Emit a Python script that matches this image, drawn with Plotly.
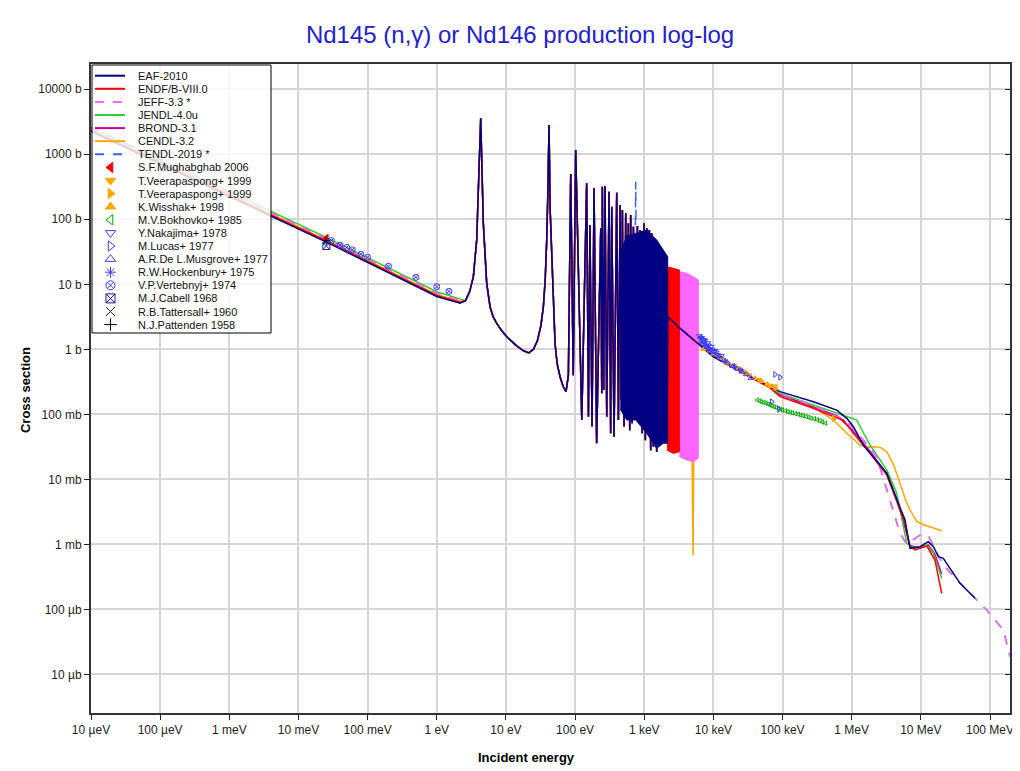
import plotly.graph_objects as go

# ---------------- axis ticks ----------------
X_TICK_VALS = [1e-5, 1e-4, 1e-3, 1e-2, 1e-1, 1, 10, 100, 1e3, 1e4, 1e5, 1e6, 1e7, 1e8]
X_TICK_TEXT = ["10 µeV", "100 µeV", "1 meV", "10 meV", "100 meV", "1 eV", "10 eV", "100 eV",
               "1 keV", "10 keV", "100 keV", "1 MeV", "10 MeV", "100 MeV"]
Y_TICK_VALS = [1e-5, 1e-4, 1e-3, 1e-2, 1e-1, 1, 10, 100, 1e3, 1e4]
Y_TICK_TEXT = ["10 µb", "100 µb", "1 mb", "10 mb", "100 mb", "1 b", "10 b", "100 b", "1000 b", "10000 b"]

# ---------------- evaluated data (energy in eV, cross section in b) ----------------
LOW_E = [1e-5, 0.0253, 1.0, 2.17]
EAF_LOW = [2240, 44.6, 6.5, 5.1]
BROND_LOW = [2310, 46.0, 6.7, 5.25]
ENDF_LOW = [2330, 46.4, 6.75, 5.3]
CENDL_LOW = [2420, 48.2, 7.0, 5.5]
JEFF_LOW = [2510, 50.0, 7.3, 5.7]
TENDL_LOW = [2510, 50.0, 7.3, 5.7]
JENDL_LOW = [2640, 52.6, 7.7, 6.0]

# shared resolved-resonance curve
RES_E = [2.6, 3.0, 3.38, 3.78, 3.99, 4.32, 4.71, 5.0, 5.27, 5.89, 6.5, 7.36, 8.5, 10.3, 14.0, 18.0,
         21.5, 25.0, 28.5, 32.0, 34.8, 37.0, 38.9, 40.5, 42.0, 43.5, 45.9, 48.0, 51.3, 55.0, 60.6,
         67.0, 74, 80, 86.5, 94, 102, 125, 147, 156, 164, 176, 188, 205, 235, 243, 248, 259,
         271, 287, 310, 327, 339, 366, 400, 423, 447, 467, 483, 510, 540, 564, 589, 617, 637, 667,
         697, 745, 796, 832, 869, 929, 993, 1038, 1086, 1135, 1186, 1240, 1282, 1355, 1432, 1514,
         1600, 1690, 1790, 1932, 2066, 2138]
RES_S = [5.6, 7.8, 13.1, 48, 282, 3580, 86.8, 25, 10.4, 4.52, 3.2, 2.51, 2.0, 1.56, 1.15, 0.95,
         0.88, 1.0, 1.35, 2.3, 4.52, 12, 48, 300, 2820, 150, 26.6, 5.0, 1.24, 0.6, 0.379,
         0.27, 0.223, 0.4, 498, 0.4, 1165, 0.082, 358, 0.092, 81.7, 0.065, 300, 0.0358, 72.7,
         0.21, 317, 0.237, 325, 0.092, 266, 0.051, 156, 0.045, 257, 0.082, 166, 0.166, 139, 0.065,
         124, 0.082, 86.8, 0.057, 116, 0.073, 76.9, 0.166, 78.9, 0.082, 68.4, 0.051, 86.8, 0.040,
         72.7, 0.051, 68.4, 0.028, 60.9, 0.0317, 48, 0.0266, 37.9, 0.051, 33.7, 0.0358, 28.2, 0.040]

# dense (unresolvable at this scale) resonance bands: upper / lower envelopes
EAF_BAND_E = [450, 558, 753, 1086, 1514, 1892, 2183]
EAF_BAND_TOP = [30, 55, 61, 68.4, 48, 33.7, 26.6]
EAF_BAND_BOT = [0.12, 0.082, 0.082, 0.051, 0.03, 0.036, 0.036]
ENDF_BAND_E = [2138, 2640, 3220]
ENDF_BAND_TOP = [18.7, 17.6, 16.6]
ENDF_BAND_BOT = [0.028, 0.025, 0.0266]
JEFF_BAND_E = [3220, 4110, 5140, 6060]
JEFF_BAND_TOP = [15.6, 14.8, 13.1, 11.6]
JEFF_BAND_BOT = [0.0223, 0.0198, 0.0187, 0.021]

TENDL_PEAK_E = [745, 753, 761]
TENDL_PEAK_S = [80, 379, 80]

CENDL_MID_E = [2200, 3220, 4000, 4150, 4300, 4450, 4600, 4900, 5080, 5200, 5600]
CENDL_MID_S = [0.03, 0.03, 0.03, 0.11, 0.02, 0.12, 0.02, 0.03, 0.00068, 0.03, 1.3]

# smooth (unresolved / fast) region
EAF_HI_E = [2183, 3300, 1.0e4, 3.03e4, 6.59e4, 9.2e4, 2.79e5, 6.08e5, 8.48e5, 1.06e6, 1.47e6, 2.06e6,
            3.22e6, 4.73e6, 5.9e6, 6.98e6, 9.73e6, 1.28e7, 1.52e7, 1.79e7, 2.11e7, 3.69e7, 6.08e7]
EAF_HI_S = [3.17, 2.10, 0.77, 0.403, 0.266, 0.223, 0.156, 0.116, 0.0867, 0.0645, 0.0337, 0.0223,
            0.0124, 0.00427, 0.00237, 0.000868, 0.000919, 0.0011, 0.000919, 0.000645, 0.000609,
            0.000251, 0.000148]
ENDF_HI_E = [3220, 1.0e4, 3.03e4, 6.59e4, 9.2e4, 2.79e5, 5.43e5, 7.57e5, 1.06e6, 1.84e6, 3.22e6,
             4.73e6, 5.9e6, 6.82e6, 8.24e6, 1.22e7, 1.6e7, 2.0e7]
ENDF_HI_S = [2.15, 0.77, 0.40, 0.255, 0.187, 0.124, 0.092, 0.0817, 0.051, 0.0251, 0.0116, 0.00402,
             0.0021, 0.000976, 0.000817, 0.000942, 0.000573, 0.000176]
JENDL_HI_E = [3220, 1.0e4, 3.03e4, 6.59e4, 9.2e4, 2.79e5, 6.08e5, 1.18e6, 1.84e6, 3.22e6, 4.48e6,
              6.25e6, 8.24e6, 1.22e7, 1.52e7, 2.0e7]
JENDL_HI_S = [2.2, 0.79, 0.41, 0.26, 0.21, 0.139, 0.104, 0.0817, 0.0337, 0.0139, 0.0061, 0.00104,
              0.000868, 0.000976, 0.000727, 0.0003]
BROND_HI_E = [3220, 1.0e4, 3.03e4, 6.59e4, 9.2e4, 2.79e5, 6.08e5, 1.06e6, 1.84e6, 3.22e6, 4.73e6,
              6.98e6, 9.73e6, 1.28e7, 1.6e7, 2.0e7]
BROND_HI_S = [2.15, 0.77, 0.40, 0.26, 0.20, 0.13, 0.095, 0.055, 0.027, 0.012, 0.0042, 0.00095,
              0.00088, 0.00098, 0.0007, 0.00035]
CENDL_HI_E = [5600, 1.0e4, 3.03e4, 6.59e4, 9.2e4, 2.79e5, 5.43e5, 8.48e5, 1.32e6, 1.7e6, 2.06e6,
              2.6e6, 3.22e6, 4.0e6, 5.0e6, 6.0e6, 6.98e6, 8.73e6, 1.1e7, 1.36e7, 1.7e7, 2.0e7]
CENDL_HI_S = [1.3, 0.78, 0.40, 0.255, 0.20, 0.13, 0.0817, 0.051, 0.0337, 0.031, 0.0317, 0.031,
              0.0266, 0.017, 0.00867, 0.0048, 0.00337, 0.00223, 0.002, 0.00187, 0.0017, 0.00162]
JEFF_HI_E = [6060, 1.0e4, 3.03e4, 6.59e4, 9.2e4, 2.79e5, 8.02e5, 1.47e6, 2.30e6, 2.87e6, 3.79e6,
             5.0e6, 6.25e6, 9.73e6, 1.28e7, 1.6e7, 2.11e7, 3.69e7, 6.43e7, 8.97e7, 1.18e8, 1.56e8,
             1.95e8]
JEFF_HI_S = [1.15, 0.78, 0.41, 0.26, 0.205, 0.135, 0.0817, 0.0403, 0.0223, 0.0104, 0.00379, 0.00148,
             0.00101, 0.00139, 0.00136, 0.000868, 0.00048, 0.000251, 0.000139, 9.75e-5, 6.84e-5,
             4.8e-5, 1.87e-5]
TENDL_HI_E = JEFF_HI_E
TENDL_HI_S = JEFF_HI_S

# ---------------- experimental data ----------------
MUGHABGHAB_E, MUGHABGHAB_S = [0.0253], [51]
VEERA1_E = [1.1e4, 1.3e4, 1.6e4, 1.9e4, 2.2e4, 2.7e4, 3.3e4, 4.5e4, 6.2e4, 7.8e4]
VEERA1_S = [0.82, 0.74, 0.60, 0.56, 0.52, 0.46, 0.40, 0.34, 0.28, 0.27]
VEERA2_E, VEERA2_S = [5.5e5], [0.085]
WISSHAK_E = [6.5e3, 7.2e3, 8e3, 9.0e3, 1.0e4, 1.25e4, 1.5e4, 2.0e4, 2.5e4, 3.0e4, 4.0e4, 5.0e4,
             6.0e4, 7.0e4, 8.0e4]
WISSHAK_S = [1.35, 1.0, 1.1, 0.95, 0.85, 0.75, 0.66, 0.56, 0.48, 0.43, 0.36, 0.32, 0.29, 0.27, 0.25]
BOKHOVKO_E = [4.3e4, 4.7e4, 5.0e4, 5.4e4, 5.8e4, 6.2e4, 6.6e4, 7.1e4, 7.6e4, 8.2e4, 8.8e4, 9.4e4,
              1.0e5, 1.1e5, 1.2e5, 1.3e5, 1.4e5, 1.55e5, 1.7e5, 1.85e5, 2.0e5, 2.2e5, 2.4e5, 2.6e5,
              2.9e5, 3.2e5, 3.5e5, 3.8e5, 4.2e5]
BOKHOVKO_S = [0.166, 0.16, 0.155, 0.152, 0.148, 0.143, 0.139, 0.134, 0.13, 0.126, 0.122, 0.119,
              0.116, 0.113, 0.11, 0.107, 0.105, 0.102, 0.10, 0.097, 0.095, 0.092, 0.09, 0.087,
              0.085, 0.082, 0.079, 0.076, 0.073]
NAKAJIMA_E = [6.3e3, 6.5e3, 6.7e3, 6.8e3, 7.0e3, 7.2e3, 7.3e3, 7.5e3, 7.7e3, 7.8e3, 8.0e3, 8.3e3,
              8.5e3, 8.8e3, 9.0e3, 9.3e3, 9.5e3, 1.0e4, 1.05e4, 1.1e4, 1.15e4, 1.2e4, 1.3e4]
NAKAJIMA_S = [1.6, 1.45, 1.25, 1.5, 1.2, 1.35, 1.4, 1.35, 1.1, 1.15, 1.05, 1.25, 1.15, 0.98, 0.95,
              1.1, 1.0, 0.85, 0.95, 0.9, 0.82, 0.75, 0.8]
LUCAS_E = [7.0e4, 7.8e4, 8.9e4, 9.2e4]
LUCAS_S = [0.156, 0.41, 0.119, 0.37]
MUSGROVE_E = [6.6e3, 7.3e3, 8.2e3, 9.1e3, 1.05e4, 1.2e4, 1.4e4, 1.6e4, 1.9e4, 2.2e4, 2.6e4, 3.0e4, 3.5e4]
MUSGROVE_S = [1.55, 1.3, 1.1, 1.0, 0.9, 0.78, 0.68, 0.62, 0.55, 0.5, 0.45, 0.41, 0.36]
HOCKENBURY_E = [1.5e4, 2.0e4, 2.5e4]
HOCKENBURY_S = [0.66, 0.55, 0.48]
VERTEBNYJ_E = [0.03, 0.04, 0.05, 0.06, 0.08, 0.1, 0.2, 0.5, 1.0, 1.5]
VERTEBNYJ_S = [47, 40, 37, 34, 29, 26, 19, 12.8, 9.2, 7.8]
CABELL_E, CABELL_S = [0.0253], [38.8]
TATTERSALL_E, TATTERSALL_S = [0.0253], [45]
PATTENDEN_E, PATTENDEN_S = [0.0253], [47]

# ---------------- styles ----------------
LIBS = [  # name, color, dash
    ("EAF-2010", "#000080", "solid"),
    ("ENDF/B-VIII.0", "#ff0000", "solid"),
    ("JEFF-3.3 *", "#ff66ff", "dash"),
    ("JENDL-4.0u", "#33cc33", "solid"),
    ("BROND-3.1", "#cc0099", "solid"),
    ("CENDL-3.2", "#ffa500", "solid"),
    ("TENDL-2019 *", "#3366ff", "dash"),
]
COL = {n: c for n, c, d in LIBS}
DASH = {n: d for n, c, d in LIBS}
EXPS = [  # name, E, S, symbol, color, size in plot
    ("S.F.Mughabghab 2006", MUGHABGHAB_E, MUGHABGHAB_S, "triangle-left", "#ff0000", 7),
    ("T.Veerapaspong+ 1999", VEERA1_E, VEERA1_S, "triangle-down", "#ffa500", 5),
    ("T.Veerapaspong+ 1999", VEERA2_E, VEERA2_S, "triangle-right", "#ffa500", 5),
    ("K.Wisshak+ 1998", WISSHAK_E, WISSHAK_S, "triangle-up", "#ffa500", 5),
    ("M.V.Bokhovko+ 1985", BOKHOVKO_E, BOKHOVKO_S, "triangle-left-open", "#00b000", 4),
    ("Y.Nakajima+ 1978", NAKAJIMA_E, NAKAJIMA_S, "triangle-down-open", "#3b3bff", 5),
    ("M.Lucas+ 1977", LUCAS_E, LUCAS_S, "triangle-right-open", "#3b3bff", 5),
    ("A.R.De L.Musgrove+ 1977", MUSGROVE_E, MUSGROVE_S, "triangle-up-open", "#3b3bff", 5),
    ("R.W.Hockenbury+ 1975", HOCKENBURY_E, HOCKENBURY_S, "asterisk-open", "#3b3bff", 5),
    ("V.P.Vertebnyj+ 1974", VERTEBNYJ_E, VERTEBNYJ_S, "circle-x-open", "#3b3bff", 6),
    ("M.J.Cabell 1968", CABELL_E, CABELL_S, "square-x-open", "#1a1aa0", 7),
    ("R.B.Tattersall+ 1960", TATTERSALL_E, TATTERSALL_S, "x-thin-open", "#1a1aa0", 6),
    ("N.J.Pattenden 1958", PATTENDEN_E, PATTENDEN_S, "cross-thin-open", "#000000", 6),
]

fig = go.Figure()


def line(x, y, name, width=1.5):
    fig.add_trace(go.Scatter(x=x, y=y, mode="lines", showlegend=False, hoverinfo="skip",
                             line=dict(color=COL[name], width=width, dash=DASH[name])))


def band(e, top, bot, name):
    c = COL[name]
    fig.add_trace(go.Scatter(x=e + e[::-1], y=top + bot[::-1], mode="lines", fill="toself",
                             fillcolor=c, line=dict(color=c, width=1), showlegend=False,
                             hoverinfo="skip"))


# draw order (last on top): TENDL, CENDL, BROND, JENDL, JEFF, ENDF, EAF
line(LOW_E + RES_E + TENDL_HI_E, TENDL_LOW + RES_S + TENDL_HI_S, "TENDL-2019 *")
line(TENDL_PEAK_E, TENDL_PEAK_S, "TENDL-2019 *")
line(LOW_E + RES_E + CENDL_MID_E + CENDL_HI_E, CENDL_LOW + RES_S + CENDL_MID_S + CENDL_HI_S, "CENDL-3.2")
line(LOW_E + RES_E + BROND_HI_E, BROND_LOW + RES_S + BROND_HI_S, "BROND-3.1")
line(LOW_E + RES_E + JENDL_HI_E, JENDL_LOW + RES_S + JENDL_HI_S, "JENDL-4.0u")
band(JEFF_BAND_E, JEFF_BAND_TOP, JEFF_BAND_BOT, "JEFF-3.3 *")
line(LOW_E + RES_E + JEFF_HI_E, JEFF_LOW + RES_S + JEFF_HI_S, "JEFF-3.3 *")
band(ENDF_BAND_E, ENDF_BAND_TOP, ENDF_BAND_BOT, "ENDF/B-VIII.0")
line(LOW_E + RES_E + ENDF_HI_E, ENDF_LOW + RES_S + ENDF_HI_S, "ENDF/B-VIII.0")
band(EAF_BAND_E, EAF_BAND_TOP, EAF_BAND_BOT, "EAF-2010")
line(LOW_E + RES_E + EAF_HI_E, EAF_LOW + RES_S + EAF_HI_S, "EAF-2010")

for name, e, s, sym, c, sz in EXPS:
    fig.add_trace(go.Scatter(x=e, y=s, mode="markers", showlegend=False, name=name,
                             marker=dict(symbol=sym, color=c, size=sz,
                                         line=dict(color=c, width=1))))

# empty trace so the right-hand (inside-tick) axis is rendered
fig.add_trace(go.Scatter(x=[], y=[], yaxis="y3", showlegend=False, hoverinfo="skip"))

# ---------------- compact legend (overlay axes mapped to screen pixels) ----------------
ROW0, ROW_H = 75.7, 13.1
BOX_X = [92, 271, 271, 92, 92]
BOX_Y = [65, 65, 333, 333, 65]
fig.add_trace(go.Scatter(x=BOX_X, y=BOX_Y, xaxis="x2", yaxis="y2", mode="lines",
                         fill="toself", fillcolor="rgba(255,255,255,0.82)",
                         line=dict(color="#000000", width=1), showlegend=False, hoverinfo="skip"))
for i, (name, c, d) in enumerate(LIBS):
    yy = ROW0 + ROW_H * i
    fig.add_trace(go.Scatter(x=[95, 125], y=[yy, yy], xaxis="x2", yaxis="y2", mode="lines",
                             line=dict(color=c, width=2, dash="dash" if d == "dash" else "solid"),
                             showlegend=False, hoverinfo="skip"))
mk_y = [ROW0 + ROW_H * (len(LIBS) + j) for j in range(len(EXPS))]
fig.add_trace(go.Scatter(x=[110.5] * len(EXPS), y=mk_y, xaxis="x2", yaxis="y2", mode="markers",
                         marker=dict(symbol=[e[3] for e in EXPS], color=[e[4] for e in EXPS], size=9,
                                     line=dict(color=[e[4] for e in EXPS], width=1)),
                         showlegend=False, hoverinfo="skip"))
annotations = []
names = [n for n, c, d in LIBS] + [e[0] for e in EXPS]
for i, n in enumerate(names):
    annotations.append(dict(x=136, y=ROW0 + ROW_H * i, xref="x2", yref="y2", text=n,
                            showarrow=False, xanchor="left", yanchor="middle",
                            font=dict(size=11, color="#111111", family="Liberation Sans, Arial")))

annotations.append(dict(text="<b>Cross section</b>", xref="paper", yref="paper", x=-0.0707, y=0.4977,
                        textangle=-90, showarrow=False, xanchor="center", yanchor="middle",
                        font=dict(size=13, color="#000000", family="Liberation Sans, Arial")))
annotations.append(dict(text="<b>Incident energy</b>", xref="paper", yref="paper", x=0.4744, y=-0.0693,
                        showarrow=False, xanchor="center", yanchor="middle",
                        font=dict(size=13, color="#000000", family="Liberation Sans, Arial")))

axis_common = dict(type="log", showgrid=True, gridcolor="#d6d6d6", gridwidth=1.5, zeroline=False,
                   showline=True, linecolor="#333333", linewidth=2, mirror=True, automargin=False,
                   ticks="outside", ticklen=5, tickcolor="#222222", tickwidth=1,
                   tickfont=dict(size=12, color="#222222", family="Liberation Sans, Arial"))

fig.update_layout(
    width=1020, height=771,
    margin=dict(l=83, r=18, t=56, b=66),
    paper_bgcolor="white", plot_bgcolor="white",
    showlegend=False,
    title=dict(text="Nd145 (n,γ) or Nd146 production log-log", xref="container", yref="container",
               x=0.502, y=0.965, xanchor="center", yanchor="middle",
               font=dict(size=24, color="#2222cc", family="Liberation Sans, Arial")),
    xaxis=dict(range=[-5, 8.289], tickvals=X_TICK_VALS, ticktext=X_TICK_TEXT, **axis_common),
    yaxis=dict(range=[-5.595, 4.389], tickvals=Y_TICK_VALS, ticktext=Y_TICK_TEXT, **axis_common),
    yaxis3=dict(type="log", range=[-5.595, 4.389], tickvals=Y_TICK_VALS, overlaying="y", anchor="x",
                side="right", ticks="inside", ticklen=5, tickcolor="#222222", showticklabels=False,
                showgrid=False, zeroline=False, showline=False, automargin=False, fixedrange=True),
    xaxis2=dict(range=[91, 1010], overlaying="x", visible=False, fixedrange=True),
    yaxis2=dict(range=[713, 64], overlaying="y", visible=False, fixedrange=True),
    annotations=annotations,
)

fig.write_html("out.html")
